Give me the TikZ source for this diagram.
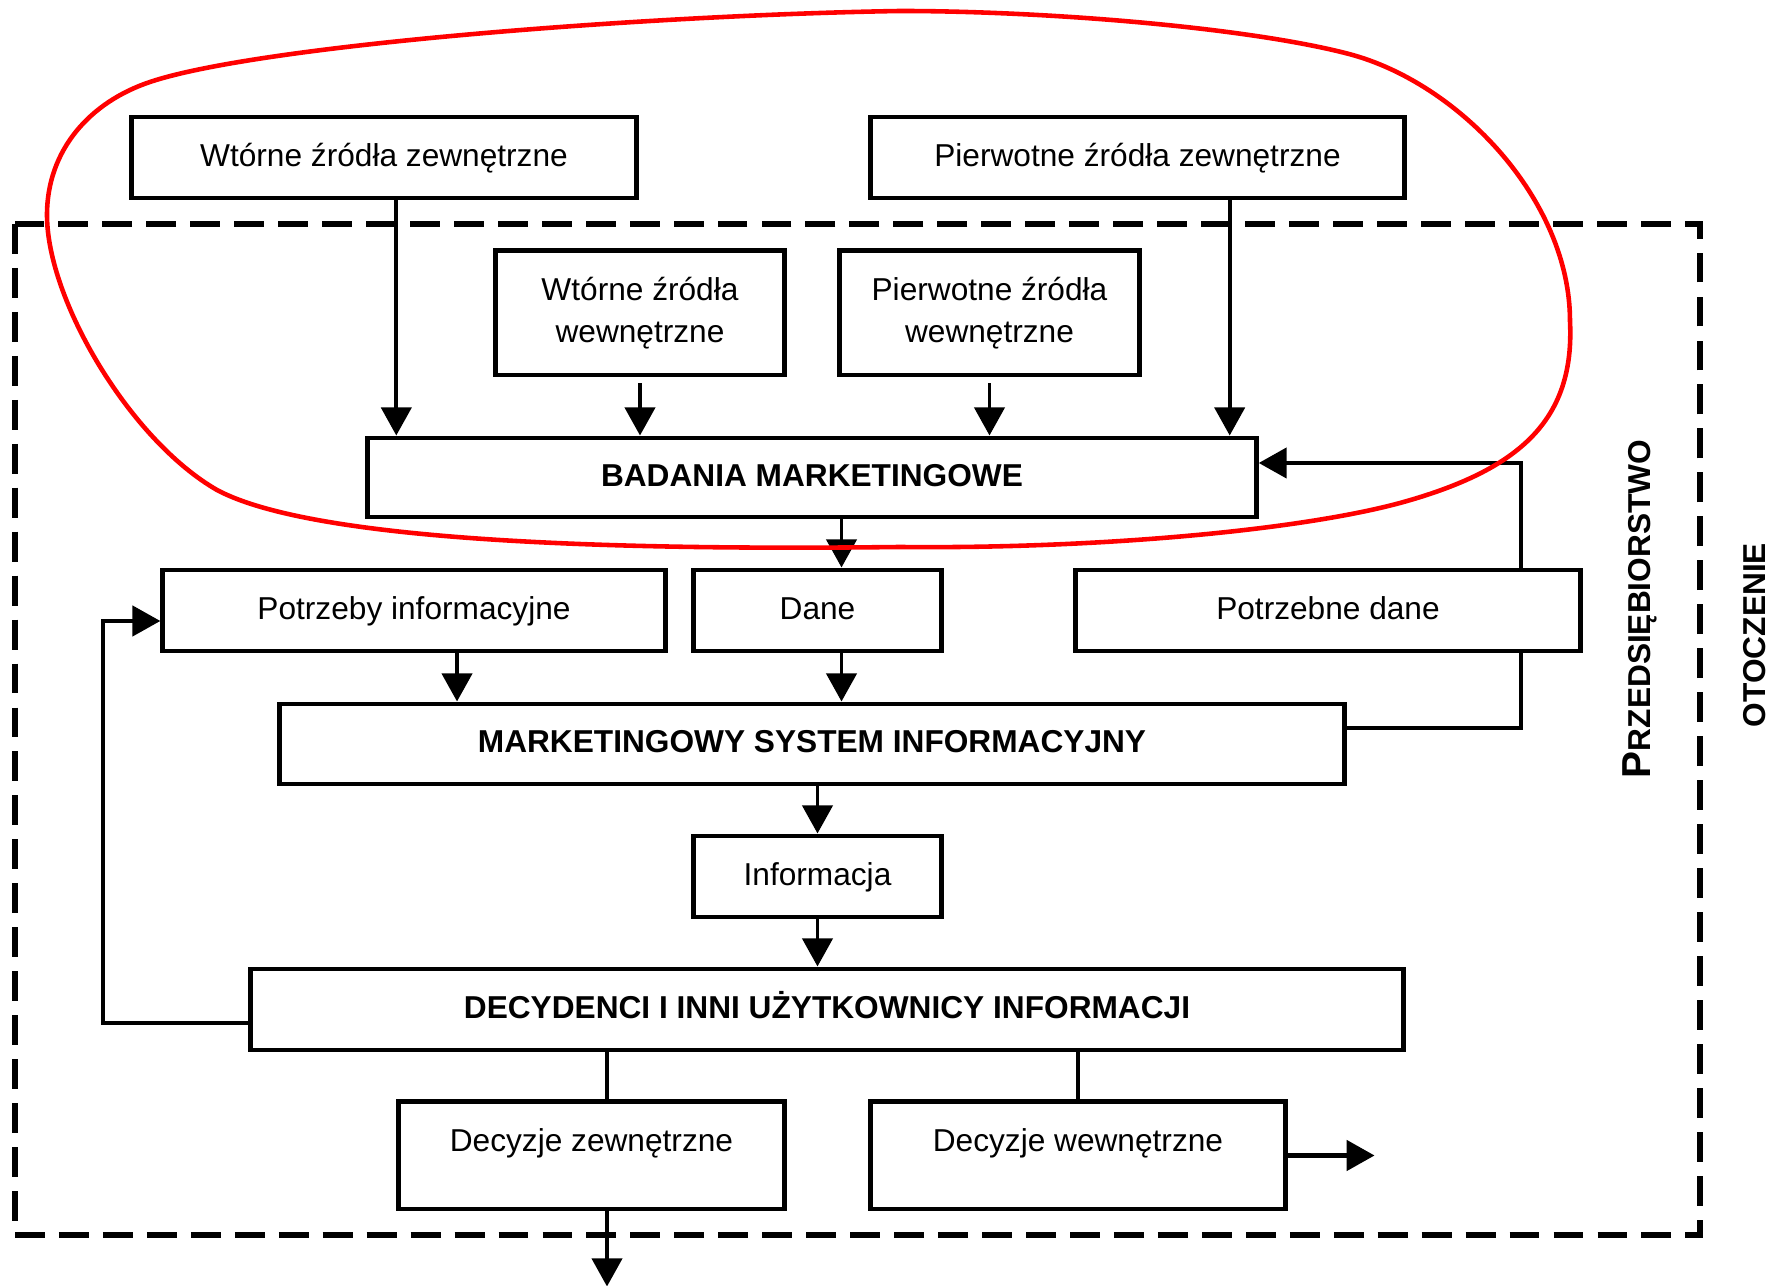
\documentclass[tikz,border=0pt]{standalone}
\usepackage{fontspec}
\setmainfont{Liberation Sans}
\usetikzlibrary{arrows.meta}

\begin{document}
\begin{tikzpicture}[x=0.01cm, y=-0.01cm,
  plain/.style={rectangle, draw, line width=1.4pt, align=center, inner sep=2pt,
                font=\fontsize{9}{12}\selectfont},
  box/.style={plain, text height=0.25cm, text depth=0.07cm},
  main/.style={box, font=\fontsize{9}{12}\selectfont\bfseries},
  arrow/.style={-{Triangle[length=0.28cm, width=0.3cm]}, line width=1.1pt},
  link/.style={line width=1.3pt},
  dashbox/.style={line width=1.5pt, dash pattern=on 8.5pt off 4pt},
  side/.style={font=\fontsize{9}{9}\selectfont\bfseries, rotate=90, inner sep=0pt}
]

\useasboundingbox (0,0) rectangle (1771,1286);

% Enterprise boundary
\draw[dashbox] (15,224) rectangle (1700,1235);

% Layer 1: External sources
\node[box, minimum width=5.04cm, minimum height=0.81cm] (wzz) at (384,157.5) {Wtórne źródła zewnętrzne};
\node[box, minimum width=5.33cm, minimum height=0.81cm] (pzz) at (1137.5,157.5) {Pierwotne źródła zewnętrzne};

% Layer 2: Internal sources
\node[plain, minimum width=2.88cm, minimum height=1.24cm] (wzw) at (640,313) {Wtórne źródła\\wewnętrzne};
\node[plain, minimum width=2.99cm, minimum height=1.24cm] (pzw) at (989.5,313) {Pierwotne źródła\\wewnętrzne};

% Layer 3: Research
\node[main, minimum width=8.88cm, minimum height=0.79cm] (badania) at (812,477.5) {BADANIA MARKETINGOWE};

% Layer 4: Needs and data
\node[box, minimum width=5.02cm, minimum height=0.81cm] (potrzeby) at (414,610.5) {Potrzeby informacyjne};
\node[box, minimum width=2.47cm, minimum height=0.81cm] (dane) at (817.5,610.5) {Dane};
\node[box, minimum width=5.04cm, minimum height=0.81cm] (pdane) at (1328,610.5) {Potrzebne dane};

% Layer 5: System
\node[main, minimum width=10.64cm, minimum height=0.8cm] (msi) at (812,744) {MARKETINGOWY SYSTEM INFORMACYJNY};
\node[box, minimum width=2.47cm, minimum height=0.81cm] (info) at (817.5,876.5) {Informacja};

% Layer 6: Users and decisions
\node[main, minimum width=11.52cm, minimum height=0.81cm] (decyd) at (827,1009.5) {DECYDENCI I INNI UŻYTKOWNICY INFORMACJI};
\node[box, text height=0.24cm, text depth=0.32cm, minimum width=3.85cm, minimum height=1.07cm] (dzew) at (591.5,1155.5) {Decyzje zewnętrzne};
\node[box, text height=0.24cm, text depth=0.32cm, minimum width=4.14cm, minimum height=1.07cm] (dwew) at (1078,1155.5) {Decyzje wewnętrzne};

% Side labels
\node[side] (firma) at (1640,609) {{\fontsize{11.5}{11}\selectfont P}RZEDSIĘBIORSTWO};
\node[side] (otoczenie) at (1755,635) {OTOCZENIE};

% Helper points
\coordinate (b1) at ([xshift=0.31cm]badania.north west);
\coordinate (b4) at ([xshift=-0.29cm]badania.north east);
\coordinate (d1) at ([xshift=0.24cm]dane.north);
\coordinate (d2) at ([xshift=0.24cm]dane.south);
\coordinate (p1) at ([xshift=0.43cm]potrzeby.south);
\coordinate (z1) at ([xshift=0.155cm]dzew.north);
\coordinate (rtop) at (1521,463);
\coordinate (rbot) at (1521,728);
\coordinate (ltop) at (103,621);
\coordinate (lbot) at (103,1023);
\path (z1 |- dzew.south) ++(0,75) coordinate (zout);
\path (dwew.east) ++(87,0) coordinate (wout);

% Arrows - sources into research
\draw[arrow] (wzz.south -| b1) -- (b1);
\draw[arrow, shorten <=0.06cm] (wzw.south) -- (wzw.south |- badania.north);
\draw[arrow, shorten <=0.06cm] (pzw.south) -- (pzw.south |- badania.north);
\draw[arrow] (pzz.south -| b4) -- (b4);

% Arrows - main chain
\draw[arrow] (badania.south -| d1) -- (d1);
\draw[arrow] (d2) -- (d2 |- msi.north);
\draw[arrow] (p1) -- (p1 |- msi.north);
\draw[arrow] (info.north |- msi.south) -- (info.north);
\draw[arrow] (info.south) -- (info.south |- decyd.north);
\draw[link] (z1 |- decyd.south) -- (z1);
\draw[link] (dwew.north |- decyd.south) -- (dwew.north);
\draw[arrow] (z1 |- dzew.south) -- (zout);
\draw[arrow, line width=1.4pt] (dwew.east) -- (wout);

% Feedback loops
\draw[arrow, line width=1.3pt] (pdane.north -| rtop) -- (rtop) -- (rtop -| badania.east);
\draw[link] (rbot -| msi.east) -- (rbot) -- (pdane.south -| rbot);
\draw[arrow, line width=1.3pt] (lbot -| decyd.west) -- (lbot) -- (ltop) -- (ltop -| potrzeby.west);

% Research area
\draw[red, line width=1.3pt] (900,11)
  .. controls (650,15) and (260,45) .. (150,82)
  .. controls (90,102) and (47,150) .. (47,215)
  .. controls (47,300) and (130,440) .. (217,490)
  .. controls (320,545) and (650,550) .. (900,547)
  .. controls (1100,549) and (1300,530) .. (1400,503)
  .. controls (1520,470) and (1575,420) .. (1570,321)
  .. controls (1570,200) and (1459,83) .. (1349,54)
  .. controls (1250,28) and (1050,11) .. (900,11) -- cycle;

\end{tikzpicture}
\end{document}
